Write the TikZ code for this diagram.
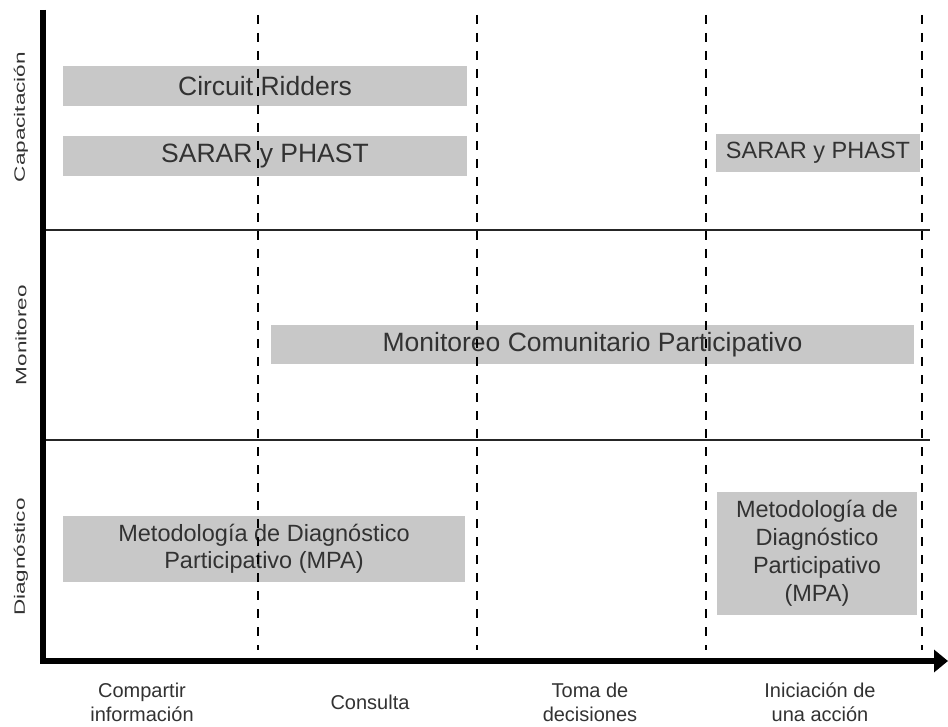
\documentclass[tikz,border=0pt]{standalone}
\usepackage{fontspec}
\setmainfont{Liberation Sans}
\usetikzlibrary{arrows.meta}
\definecolor{boxgray}{RGB}{200,200,200}
\definecolor{txt}{RGB}{50,50,50}
\tikzset{
  bar/.style={fill=boxgray, draw=none, text=txt, inner sep=0pt, align=center},
  bigtxt/.style={font=\fontsize{26.5}{30}\selectfont},
  midtxt/.style={font=\fontsize{23.5}{28}\selectfont},
  phase/.style={draw=black, line width=2.5pt, dash pattern=on 9pt off 9pt},
  sep/.style={draw=black!85, line width=1.6pt},
  axis/.style={draw=black, line width=6pt},
  rowlab/.style={rotate=90, font=\fontsize{15}{17}\selectfont, text=txt},
  collab/.style={font=\fontsize{20}{24}\selectfont, text=txt, align=center},
}
\newcommand{\stretchlab}[1]{\scalebox{1.5}[1]{#1}}
\begin{document}
\begin{tikzpicture}[x=1pt,y=-1pt]
\useasboundingbox (0,0) rectangle (948,727);
% boxes
\node[bar, bigtxt, minimum width=404pt, minimum height=40pt] (cr) at (265,86) {Circuit Ridders};
\node[bar, bigtxt, minimum width=404pt, minimum height=40pt] (sp1) at (265,156) {SARAR y PHAST};
\node[bar, midtxt, minimum width=204pt, minimum height=38pt] (sp2) at (818,153) {SARAR y PHAST};
\node[bar, bigtxt, minimum width=643pt, minimum height=39pt] (mcp) at (592.5,344.5) {Monitoreo Comunitario Participativo};
\node[bar, font=\fontsize{23.5}{27}\selectfont, minimum width=402pt, minimum height=66pt] (mpa1) at (264,549) {Metodología de Diagnóstico\\Participativo (MPA)};
\node[bar, midtxt, minimum width=200pt, minimum height=123pt] (mpa2) at (817,553.5) {Metodología de\\Diagnóstico\\Participativo\\(MPA)};
% coordinates
\coordinate (o) at (43,661);
\coordinate (ytop) at (43,10);
\coordinate (xend) at (948,661);
\coordinate (s1l) at (43,230); \coordinate (s1r) at (930,230);
\coordinate (s2l) at (43,440); \coordinate (s2r) at (930,440);
\foreach \n/\x in {a/258,b/477,c/706,d/922}{
  \coordinate (\n t) at (\x,15);
  \coordinate (\n b) at (\x,650);
}
% separators
\draw[sep] (s1l) -- (s1r);
\draw[sep] (s2l) -- (s2r);
% dashed phase lines
\foreach \n in {a,b,c,d}{ \draw[phase] (\n t) -- (\n b); }
% axes
\draw[axis] (ytop) -- ([yshift=3pt]o);
\draw[axis, -{Triangle[length=14pt,width=22pt]}] ([xshift=-3pt]o) -- (xend);
% row labels
\node[rowlab] (l1) at (21,117) {\stretchlab{Capacitación}};
\node[rowlab] (l2) at (21,335) {\stretchlab{Monitoreo}};
\node[rowlab] (l3) at (21,557) {\stretchlab{Diagnóstico}};
% column labels
\node[collab] (c1) at (142,702) {Compartir\\información};
\node[collab] (c2) at (370,702) {Consulta};
\node[collab] (c3) at (590,702) {Toma de\\decisiones};
\node[collab] (c4) at (820,702) {Iniciación de\\una acción};
\end{tikzpicture}
\end{document}
